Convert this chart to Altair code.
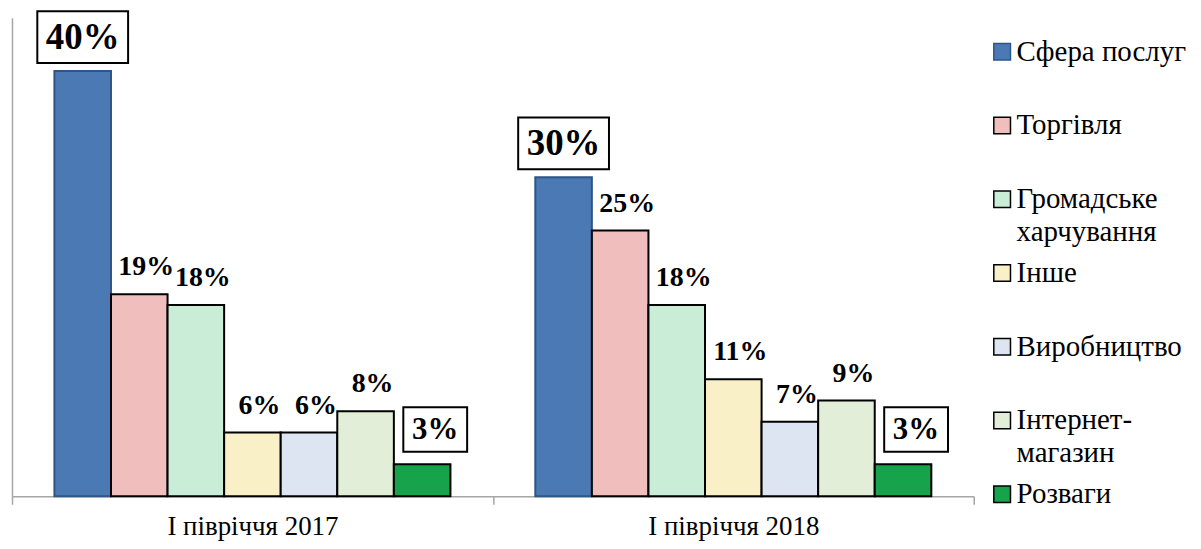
import altair as alt
import pandas as pd

periods = ["І півріччя 2017", "І півріччя 2018"]
categories = ["Сфера послуг", "Торгівля", "Громадське харчування", "Інше",
              "Виробництво", "Інтернет-магазин", "Розваги"]
values_2017 = [40, 19, 18, 6, 6, 8, 3]
values_2018 = [30, 25, 18, 11, 7, 9, 3]
fill_colors = ["#4A79B4", "#F0BEBC", "#C9EDD7", "#FAF0C8", "#DDE4F2", "#E2EED7", "#17A34C"]
stroke_colors = ["#2E5585", "#000000", "#000000", "#000000", "#000000", "#000000", "#000000"]
big_box_category = "Сфера послуг"
small_box_category = "Розваги"

rows = []
for p, vals in zip(periods, [values_2017, values_2018]):
    for c, v in zip(categories, vals):
        rows.append({"period": p, "category": c, "value": v, "label": f"{v}%"})
df = pd.DataFrame(rows)

FONT = "Times New Roman, Liberation Serif, DejaVu Serif, serif"

x_enc = alt.X("period:N", sort=periods,
              scale=alt.Scale(paddingInner=0, paddingOuter=0),
              axis=alt.Axis(title=None, tickBand="extent", domainColor="#A6A6A6",
                            tickColor="#A6A6A6", tickSize=8, domainWidth=1.5, tickWidth=1.5,
                            labelFont=FONT, labelFontSize=27, labelColor="black",
                            labelPadding=9, labelAngle=0))
xo_enc = alt.XOffset("category:N", sort=categories,
                     scale=alt.Scale(domain=categories, paddingOuter=0.75, paddingInner=0))
y_enc = alt.Y("value:Q", scale=alt.Scale(domain=[0, 45], nice=False, zero=True),
              axis=alt.Axis(title=None, labels=False, ticks=False, grid=False,
                            domainColor="#A6A6A6", domainWidth=1.5))

base = alt.Chart(df).encode(x=x_enc, xOffset=xo_enc, y=y_enc)

label_expr = ("datum.label == 'Громадське харчування' ? ['Громадське', 'харчування'] : "
              "datum.label == 'Інтернет-магазин' ? ['Інтернет-', 'магазин'] : [datum.label, '']")

bars = base.mark_bar(strokeWidth=2).encode(
    color=alt.Color("category:N", sort=categories,
                    scale=alt.Scale(domain=categories, range=fill_colors),
                    legend=alt.Legend(title=None, orient="none", legendX=979, legendY=22,
                                      symbolType="square", symbolSize=280,
                                      symbolStrokeColor="black", symbolStrokeWidth=1.5,
                                      labelFont=FONT, labelFontSize=29, labelColor="black",
                                      labelLimit=300, labelOffset=0, clipHeight=24,
                                      rowPadding=12, labelExpr=label_expr)),
    stroke=alt.Stroke("category:N", sort=categories,
                      scale=alt.Scale(domain=categories, range=stroke_colors), legend=None),
)

plain = base.transform_filter(
    (alt.datum.category != big_box_category) & (alt.datum.category != small_box_category)
).mark_text(font=FONT, fontWeight="bold", fontSize=28, baseline="alphabetic",
            dy=-19, dx=7, color="black").encode(text="label:N")

big_box = base.transform_filter(alt.datum.category == big_box_category).mark_point(
    shape="M-1,-0.57H1V0.57H-1Z", size=8300, filled=True, fill="white",
    stroke="black", strokeWidth=2, opacity=1, yOffset=-34)
big_text = base.transform_filter(alt.datum.category == big_box_category).mark_text(
    font=FONT, fontWeight="bold", fontSize=37, baseline="middle", dy=-33,
    color="black").encode(text="label:N")

small_box = base.transform_filter(alt.datum.category == small_box_category).mark_point(
    shape="M-0.59,-0.7H1.41V0.7H-0.59Z", size=4100, filled=True, fill="white",
    stroke="black", strokeWidth=2, opacity=1, yOffset=-35)
small_text = base.transform_filter(alt.datum.category == small_box_category).mark_text(
    font=FONT, fontWeight="bold", fontSize=31, baseline="middle", dy=-34, dx=13,
    color="black").encode(text="label:N")

chart = alt.layer(bars, plain, big_box, big_text, small_box, small_text).properties(
    width=965, height=480,
    autosize=alt.AutoSizeParams(type="none"),
    padding={"left": 4, "top": 9, "right": 220, "bottom": 44},
).configure(
    background="white",
    font=FONT,
    style={"guide-label": {"lineHeight": 33}},
).configure_view(stroke=None)

chart.save("out.html", embed_options={"renderer": "svg", "actions": False})
